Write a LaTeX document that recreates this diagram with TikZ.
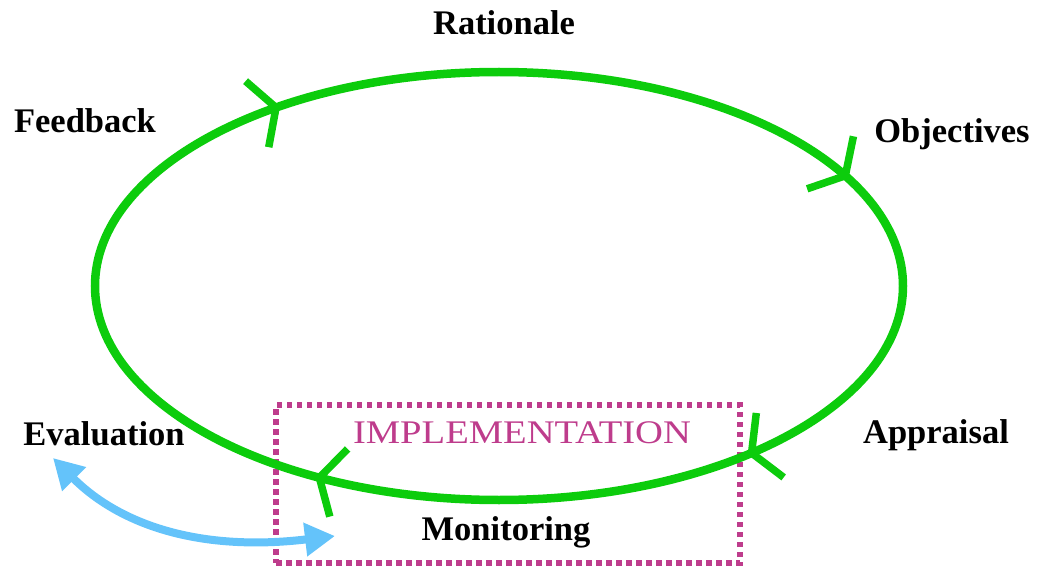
\documentclass[tikz,border=0pt]{standalone}
\usepackage{fontspec}
\setmainfont{Liberation Serif}
\usetikzlibrary{calc,arrows.meta}
\definecolor{cyclegreen}{RGB}{12,204,12}
\definecolor{implmag}{RGB}{190,60,140}
\definecolor{evalblue}{RGB}{100,195,250}
\begin{document}
\begin{tikzpicture}[x=1pt,y=1pt,
  lbl/.style={font=\fontsize{34.5}{40}\selectfont\bfseries, inner sep=0pt, anchor=base},
  cyc/.style={draw=cyclegreen, line width=8.5pt},
  chev/.style={draw=cyclegreen, line width=7.5pt, line cap=butt, line join=miter},
  dotbox/.style={draw=implmag, line width=5.5pt, dash pattern=on 5.5pt off 4.5pt, inner sep=0pt, outer sep=0pt},
  evarrow/.style={draw=evalblue, line width=8pt, {Triangle[length=30pt,width=32pt]}-{Triangle[length=30pt,width=32pt]}}]
\useasboundingbox (0,0) rectangle (1037,-567);
% implementation box
\node[dotbox, minimum width=464pt, minimum height=158pt, anchor=north west] (implbox) at (276,-405) {};
% cycle
\coordinate (C) at (499,-286);
\draw[cyc] (C) ellipse [x radius=404, y radius=214];
\foreach \t in {123.5, 31, -51.3, -116.4} {
  \pgfmathsetmacro\ang{atan2(-214*cos(\t),404*sin(\t))}
  \draw[chev, shift={($(C)+(\t:404 and 214)$)}, rotate=\ang] (-20,35) -- (0,0) -- (-20,-35);
}
% labels
\node[lbl] (rat) at (504,-35) {Rationale};
\node[lbl] (obj) at (952,-143) {Objectives};
\node[lbl] (app) at (936,-443) {Appraisal};
\node[lbl] (mon) at (506,-540) {Monitoring};
\node[lbl] (eva) at (104,-445) {Evaluation};
\node[lbl] (fee) at (85,-133) {Feedback};
\node[inner sep=0pt, anchor=base, text=implmag, font=\fontsize{33}{40}\selectfont] (imp) at (522,-443) {\scalebox{1.17}[1]{IMPLEMENTATION}};
% evaluation <-> monitoring
\coordinate (evs) at (53,-458);
\coordinate (eve) at (335,-536);
\draw[evarrow] (evs) .. controls (120,-525) and (200,-552) .. (eve);
\end{tikzpicture}
\end{document}
